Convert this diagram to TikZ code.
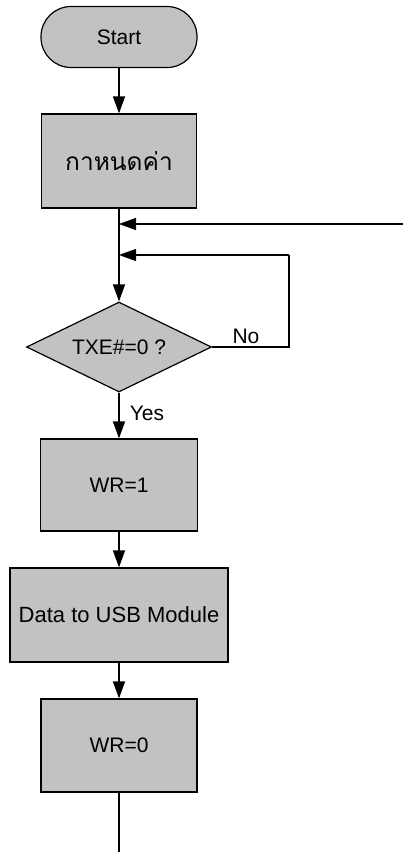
\documentclass[tikz,border=0pt]{standalone}
\usepackage{fontspec}
\setmainfont{Liberation Sans}
\newfontfamily\thaifont[Script=Thai]{Loma}
\usetikzlibrary{arrows.meta,shapes.geometric}
\definecolor{boxfill}{RGB}{194,194,194}
\begin{document}
\begin{tikzpicture}[x=1pt,y=-1pt,
  every node/.style={font=\fontsize{21}{24}\selectfont},
  box/.style={draw=black,line width=1.2pt,fill=boxfill,rectangle,inner sep=0pt},
  term/.style={box,rounded corners=30pt},
  decision/.style={draw=black,line width=1.2pt,fill=boxfill,diamond,inner sep=0pt,aspect=2.05},
  flow/.style={line width=1.3pt,-{Triangle[length=17pt,width=12pt]}},
  plain/.style={line width=1.3pt},
  lbl/.style={inner sep=0pt}]
\fill[white] (0,0) rectangle (403,852);
\useasboundingbox (0,0) rectangle (403,852);
\node[term,minimum width=156pt,minimum height=61pt] (start) at (119,37) {Start};
\node[box,minimum width=155pt,minimum height=94pt] (init) at (119,161) {\thaifont\fontsize{24.5}{28}\selectfont กาหนดค่า};
\node[decision,minimum width=185pt,minimum height=90pt] (dec) at (119,347) {TXE\#=0 ?};
\node[box,minimum width=157pt,minimum height=92pt] (wr1) at (119,485) {WR=1};
\node[box,minimum width=218pt,minimum height=94pt] (data) at (119,615) {\fontsize{22}{26}\selectfont Data to USB Module};
\node[box,minimum width=156pt,minimum height=93pt] (wr0) at (119,745.5) {WR=0};
\coordinate (ext) at (403,224);
\coordinate (j1) at (119,224);
\coordinate (j2) at (119,255);
\coordinate (nr) at (289,347);
\coordinate (nt) at (289,255);
\coordinate (end) at (119,852);
\node[lbl,anchor=south] (no) at (246,344) {No};
\node[lbl] (yes) at (147,413) {Yes};
\draw[flow] (start) -- (init);
\draw[flow] (init) -- (dec);
\draw[flow] (ext) -- (j1);
\draw[plain] (dec.east) -- (nr) -- (nt);
\draw[flow] (nt) -- (j2);
\draw[flow] (dec) -- (wr1);
\draw[flow] (wr1) -- (data);
\draw[flow] (data) -- (wr0);
\draw[plain] (wr0) -- (end);
\end{tikzpicture}
\end{document}
